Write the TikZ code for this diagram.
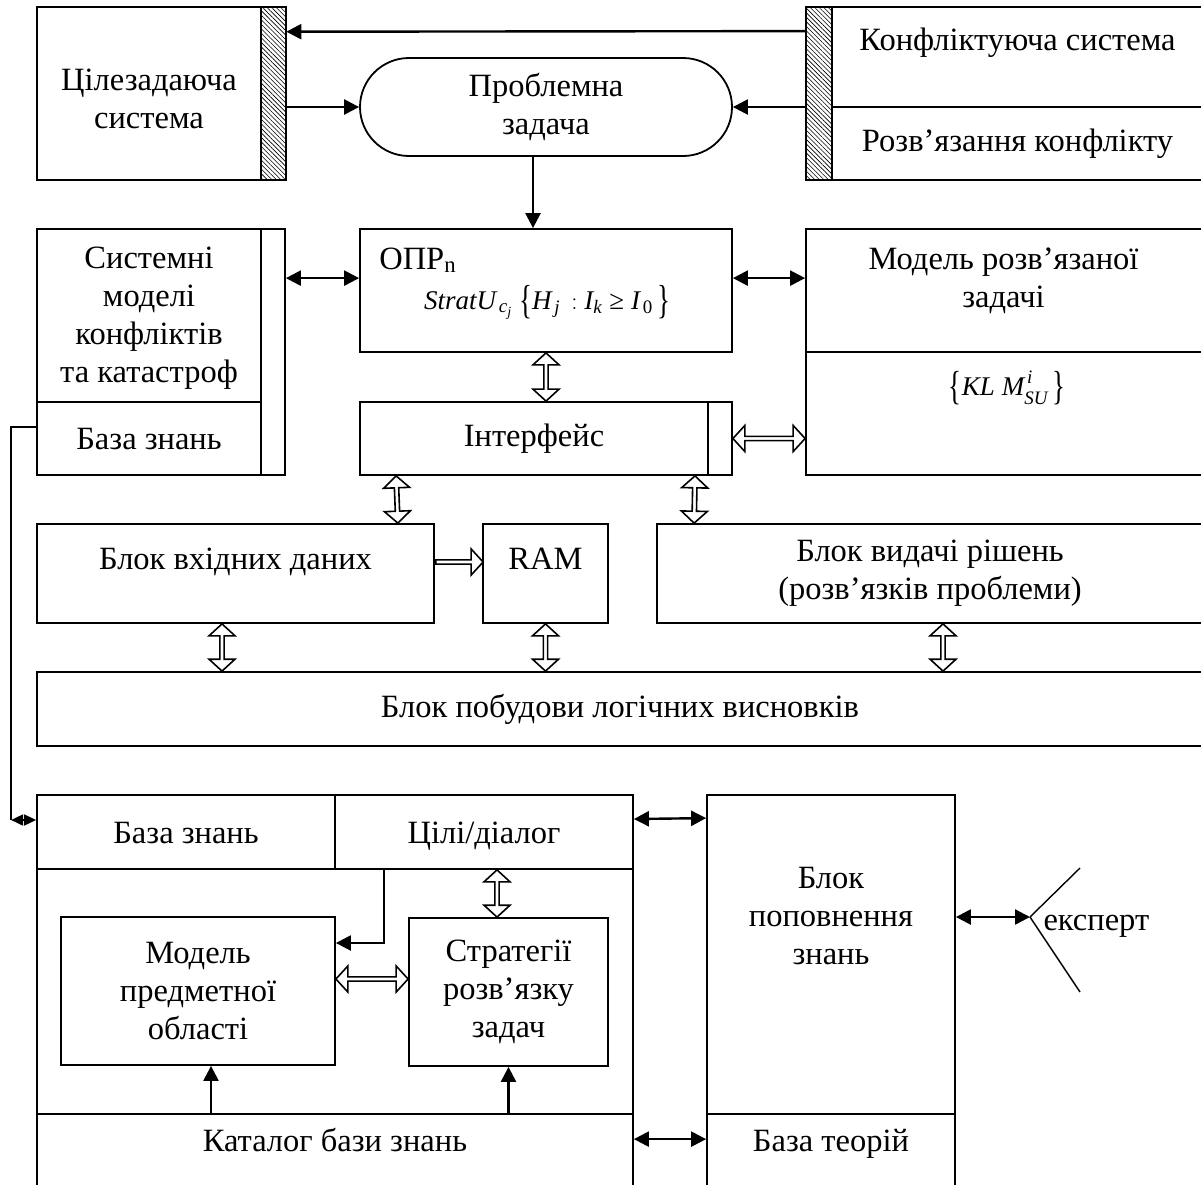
\documentclass[tikz,border=0pt]{standalone}
\usepackage{fontspec}
\setmainfont{Liberation Serif}
\usetikzlibrary{positioning, calc, arrows.meta, shapes.misc, shapes.arrows, patterns.meta}
\newcommand{\fv}[1]{\mathchoice{\mbox{\itshape#1}}{\mbox{\itshape#1}}{\mbox{\fontsize{19}{19}\selectfont\itshape#1}}{\mbox{\fontsize{14}{14}\selectfont\itshape#1}}}
\newcommand{\tallbr}[1]{\raisebox{-0.17em}{\scalebox{1}[1.5]{#1}}}
\tikzset{
  x=1pt, y=-1pt,
  every node/.style={font=\fontsize{32.5}{38}\selectfont, align=center},
  oneline/.style={text height=22pt, text depth=0pt},
  box/.style={draw, line width=1.8pt, inner sep=0pt},
  hatchbar/.style={box, pattern={Lines[angle=-45, distance=3.2pt, line width=0.6pt]}},
  formula/.style={font=\fontsize{27}{30}\selectfont, inner sep=0pt},
  arr/.style={line width=2.4pt, -{Triangle[length=15pt, width=15pt]}},
  dblarr/.style={line width=2.4pt, {Triangle[length=15pt, width=15pt]}-{Triangle[length=15pt, width=15pt]}},
  hollowtip/.style={double arrow, draw, fill=white, line width=1.6pt, inner sep=0pt,
    minimum width=26pt, double arrow head extend=4pt, double arrow head indent=0pt,
    double arrow tip angle=95},
  hollowtipr/.style={single arrow, draw, fill=white, line width=1.6pt, inner sep=0pt,
    minimum width=26pt, single arrow head extend=4pt, single arrow head indent=0pt,
    single arrow tip angle=95},
  hollow/.style={to path={
    let \p1=(\tikztostart), \p2=(\tikztotarget),
        \n1={veclen(\x2-\x1,\y2-\y1)}, \n2={atan2(\y2-\y1,\x2-\x1)} in
    node[#1, minimum height=\n1, rotate=\n2] at ($(\p1)!0.5!(\p2)$) {} (\tikztotarget)}},
  hollow/.default=hollowtip
}
\begin{document}
\begin{tikzpicture}
  \useasboundingbox (0,0) rectangle (1201,1184);
  % top row
  \node[box, minimum width=224pt, minimum height=173pt] (goal) at (149,93.5) {};
  \node (goaltext) at ($(goal.center)+(0,5)$) {Цілезадаюча\\система};
  \node[hatchbar, minimum width=25pt, minimum height=173pt] (goalbar) at (273.5,93.5) {};
  \node[box, rounded rectangle, minimum width=372pt, minimum height=98pt] (task) at (546,107) {Проблемна\\задача};
  \node[hatchbar, minimum width=26pt, minimum height=173pt] (confbar) at (819,93.5) {};
  \node[box, minimum width=371pt, minimum height=100pt] (conf) at (1017.5,57) {};
  \node[oneline] (conftext) at ($(conf.north)+(0,33)$) {Конфліктуюча система};
  \node[box, minimum width=371pt, minimum height=73pt] (resolve) at (1017.5,143.5) {Розв’язання конфлікту};

  % second row
  \node[box, minimum width=224pt, minimum height=173pt] (sys) at (149,315.5) {};
  \node (systext) at ($(sys.center)+(0,3)$) {Системні\\моделі\\конфліктів\\та катастроф};
  \node[box, oneline, minimum width=224pt, minimum height=73pt] (syskb) at (149,438.5) {База знань};
  \node[box, minimum width=24pt, minimum height=246pt] (sysbar) at (273,352) {};
  \node[box, minimum width=372pt, minimum height=123pt] (opr) at (546,290.5) {};
  \node[anchor=base west, inner sep=0pt] (oprname) at ($(opr.north west)+(20,41)$) {ОПР\textsubscript{n}};
  \node[formula] (oprformula) at ($(opr.center)+(1,12)$)
    {$\fv{StratU}_{\,\fv{c}_{\fv{j}}}\;\tallbr{\{}\fv{H}_{\,\fv{j}}\,:\fv{I}_{\fv{k}}\;\mbox{≥}\;\fv{I}_{\,\mbox{\fontsize{19}{19}\selectfont 0}}\,\tallbr{\}}$};
  \node[box, minimum width=397pt, minimum height=123pt] (model) at (1004.5,290.5) {};
  \node (modeltext) at ($(model.center)+(-1,-10)$) {Модель розв’язаної\\задачі};
  \node[box, minimum width=397pt, minimum height=123pt] (modelf) at (1004.5,413.5) {};
  \node[formula] (modelformula) at ($(modelf.north)+(2.5,37)$)
    {$\tallbr{\{}\fv{KL}\;\fv{M}^{\,\raisebox{3pt}{$\scriptstyle\fv{i}$}}_{\raisebox{-3pt}{$\scriptstyle\fv{SU}$}}\,\tallbr{\}}$};
  \node[box, minimum width=348pt, minimum height=73pt] (intf) at (534,438.5) {Інтерфейс};
  \node[box, minimum width=24pt, minimum height=73pt] (intfbar) at (720,438.5) {};

  % third row
  \node[box, minimum width=397pt, minimum height=99pt] (input) at (235.5,573.5) {};
  \node[oneline] (inputtext) at ($(input.north)+(0,35)$) {Блок вхідних даних};
  \node[box, minimum width=125pt, minimum height=99pt] (ram) at (545.5,573.5) {};
  \node[oneline] (ramtext) at ($(ram.north)+(0,35)$) {RAM};
  \node[box, minimum width=546pt, minimum height=99pt] (output) at (930,573.5) {Блок видачі рішень\\(розв’язків проблеми)};
  \node[box, minimum width=1166pt, minimum height=74pt] (logic) at (620,709) {Блок побудови логічних висновків};

  % bottom part
  \node[box, oneline, minimum width=298pt, minimum height=74pt] (kb) at (186,832) {База знань};
  \node[box, oneline, minimum width=298pt, minimum height=74pt] (goals) at (484,832) {Цілі/діалог};
  \node[box, minimum width=596pt, minimum height=245pt] (core) at (335,991.5) {};
  \node[box, minimum width=596pt, minimum height=76pt] (catalog) at (335,1152) {};
  \node[oneline] (catalogtext) at ($(catalog.north)+(0,27)$) {Каталог бази знань};
  \node[box, minimum width=274pt, minimum height=148pt] (domain) at (198,991) {Модель\\предметної\\області};
  \node[box, minimum width=199pt, minimum height=148pt] (strat) at (508.5,992) {Стратегії\\розв’язку\\задач};
  \node[box, minimum width=248pt, minimum height=319pt] (fill) at (831,954.5) {};
  \node (filltext) at ($(fill.north)+(0,122)$) {Блок\\поповнення\\знань};
  \node[box, minimum width=248pt, minimum height=76pt] (theory) at (831,1152) {};
  \node[oneline] (theorytext) at ($(theory.north)+(0,27)$) {База теорій};
  \coordinate (eye) at (1030,917);
  \node[anchor=west] (expert) at (1040,926) {експерт};

  % connectors
  \draw[arr] ([yshift=-25pt]confbar.north west) -- ([yshift=-25pt]goalbar.north east);
  \draw[arr] (goalbar.east |- task.west) -- (task.west);
  \draw[arr] (confbar.west |- task.east) -- (task.east);
  \draw[arr] ([xshift=-13pt]task.south) -- ([xshift=-13pt]opr.north);
  \draw[dblarr] ([yshift=-50pt]sysbar.north east) -- ([yshift=-50pt]opr.north west);
  \draw[dblarr] ([yshift=-50pt]opr.north east) -- ([yshift=-50pt]model.north west);
  \path (opr.south) to[hollow] (opr.south |- intf.north);
  \path (intfbar.east) to[hollow] (intfbar.east -| modelf.west);
  \path ([xshift=37pt]intf.south west) to[hollow] ([xshift=-37pt]input.north east);
  \path ([xshift=-25pt]intfbar.south) to[hollow] ([xshift=38pt]output.north west);
  \path ([yshift=11.5pt]input.east) to[hollow=hollowtipr] ([yshift=11.5pt]ram.west);
  \path ($(input.south)+(-13.5,0)$) to[hollow] ($(input.south |- logic.north)+(-13.5,0)$);
  \path (ram.south) to[hollow] (ram.south |- logic.north);
  \path ($(output.south)+(13,0)$) to[hollow] ($(output.south |- logic.north)+(13,0)$);

  \coordinate (kbturn) at ($(kb.west)+(-25,-12)$);
  \draw[line width=1.8pt] ([yshift=11.5pt]syskb.west) -| (kbturn);
  \draw[line width=1.8pt, {Triangle[length=12pt, width=11pt]}-{Triangle[length=12pt, width=11pt]}] (kbturn) -- ([yshift=12pt]kb.west);

  \draw[arr] ([xshift=50pt]goals.south west) |- ([yshift=48pt]domain.east);
  \path ($(goals.south)+(13,0)$) to[hollow] ($(goals.south |- strat.north)+(13,0)$);
  \path ($(domain.east)+(0,-12)$) to[hollow] ($(domain.east -| strat.west)+(0,-12)$);
  \draw[arr] ($(domain.south |- catalog.north)+(13,0)$) -- ($(domain.south)+(13,0)$);
  \draw[arr] (strat.south |- catalog.north) -- (strat.south);
  \draw[dblarr] ([yshift=13pt]goals.east) -- ([yshift=-24pt]fill.north west);
  \draw[dblarr] ([yshift=-26pt]catalog.north east) -- ([yshift=-26pt]theory.north west);
  \draw[dblarr] (eye -| fill.east) -- (eye);
  \draw[line width=1.4pt] (eye) -- ++(50,-49) (eye) -- ++(50,75);
\end{tikzpicture}
\end{document}
